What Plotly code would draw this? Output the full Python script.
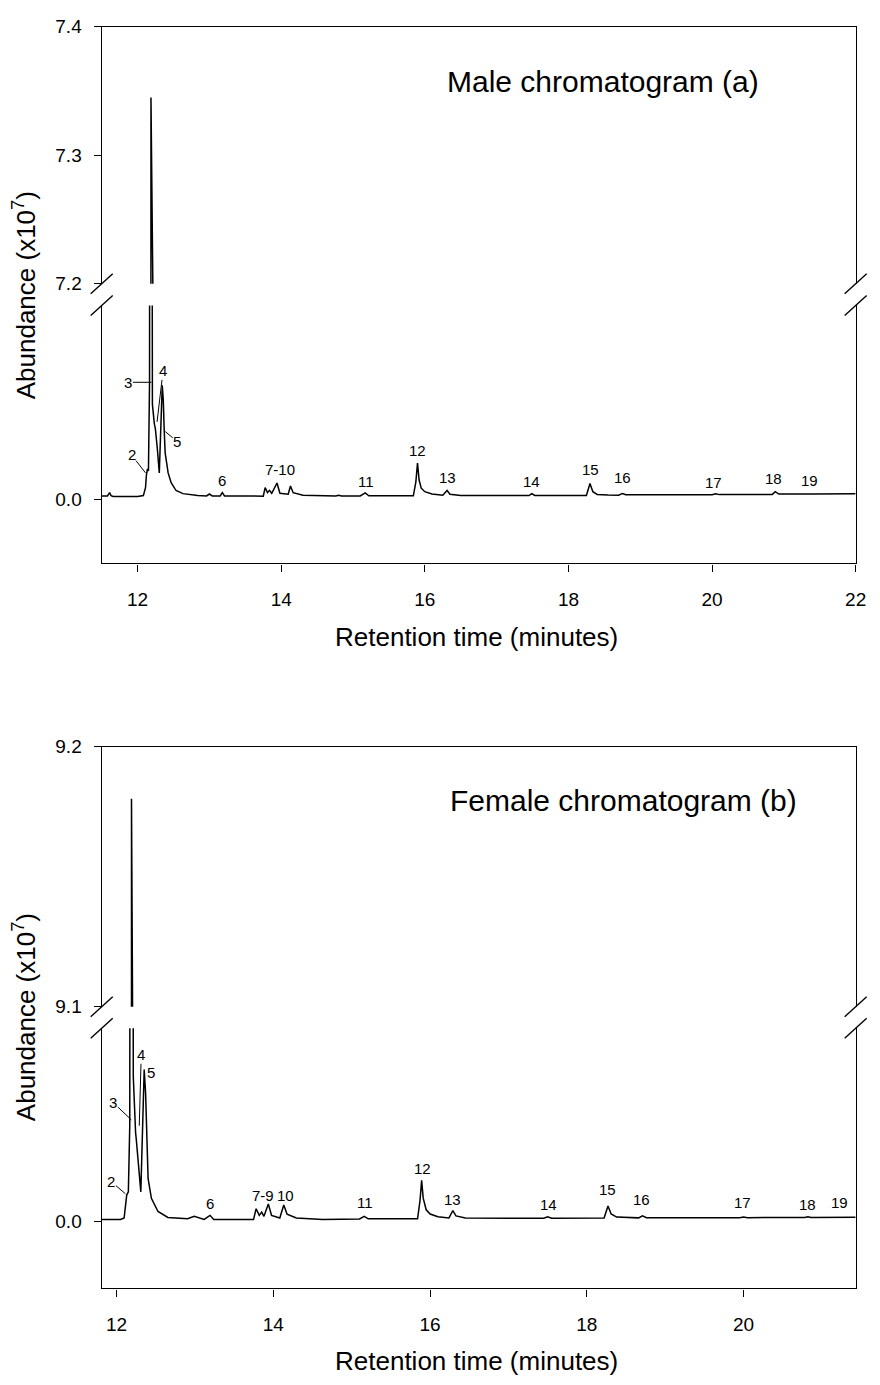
import plotly.graph_objects as go

W, H = 880, 1385

# ---------------- data ----------------
# abundance in units of x10^7 ; lower segment of each panel is a zoomed scale
male_time = [11.50, 11.58, 11.61, 11.63, 11.66, 11.80, 12.00, 12.08, 12.11, 12.123, 12.137,
             12.151, 12.166, 12.181, 12.186, 12.206, 12.233, 12.247, 12.274, 12.302, 12.343,
             12.357, 12.37, 12.384, 12.425, 12.467, 12.535, 12.631, 12.837, 12.96, 13.00,
             13.04, 13.15, 13.18, 13.21, 13.50, 13.75, 13.776, 13.809, 13.836, 13.868, 13.941,
             13.982, 14.097, 14.129, 14.166, 14.303, 14.76, 14.80, 14.84, 15.10, 15.17, 15.22,
             15.84, 15.875, 15.898, 15.92, 15.95, 16.00, 16.10, 16.25, 16.31, 16.35, 16.50,
             17.45, 17.49, 17.53, 18.25, 18.30, 18.34, 18.40, 18.55, 18.70, 18.75, 18.80,
             20.00, 20.05, 20.10, 20.84, 20.88, 20.93, 21.40, 22.00]
male_abund = [0.018, 0.018, 0.035, 0.020, 0.015, 0.015, 0.015, 0.020, 0.061, 0.127, 0.157,
              0.147, 0.600, 7.345, 7.345, 0.490, 0.390, 0.365, 0.264, 0.137, 0.589,
              0.518, 0.360, 0.239, 0.137, 0.086, 0.046, 0.030, 0.020, 0.018, 0.028,
              0.018, 0.018, 0.035, 0.018, 0.016, 0.017, 0.061, 0.035, 0.047, 0.032, 0.085,
              0.032, 0.027, 0.069, 0.035, 0.022, 0.018, 0.022, 0.018, 0.018, 0.034, 0.019,
              0.019, 0.090, 0.188, 0.100, 0.058, 0.040, 0.028, 0.022, 0.046, 0.027, 0.021,
              0.020, 0.030, 0.021, 0.021, 0.082, 0.040, 0.026, 0.023, 0.022, 0.031, 0.024,
              0.024, 0.029, 0.025, 0.026, 0.040, 0.028, 0.028, 0.030]

female_time = [11.81, 12.05, 12.096, 12.129, 12.15, 12.168, 12.186, 12.19, 12.213, 12.242,
               12.25, 12.309, 12.352, 12.37, 12.402, 12.444, 12.528, 12.654, 12.906, 12.99,
               13.117, 13.192, 13.24, 13.747, 13.78, 13.82, 13.851, 13.88, 13.936, 13.977,
               14.082, 14.133, 14.175, 14.293, 14.63, 15.10, 15.16, 15.21, 15.84, 15.872,
               15.892, 15.912, 15.95, 16.00, 16.10, 16.24, 16.29, 16.33, 16.45, 17.45, 17.50,
               17.55, 18.22, 18.27, 18.31, 18.38, 18.55, 18.66, 18.71, 18.76, 19.95, 20.00,
               20.05, 20.78, 20.82, 20.86, 21.43]
female_abund = [0.010, 0.010, 0.017, 0.136, 0.153, 0.500, 9.180, 9.180, 0.750, 0.460,
                0.430, 0.153, 0.786, 0.663, 0.221, 0.119, 0.051, 0.020, 0.014, 0.026,
                0.010, 0.031, 0.010, 0.009, 0.065, 0.031, 0.048, 0.026, 0.090, 0.031,
                0.017, 0.085, 0.037, 0.017, 0.010, 0.012, 0.026, 0.013, 0.013, 0.110,
                0.213, 0.120, 0.060, 0.038, 0.024, 0.017, 0.055, 0.028, 0.017, 0.016, 0.024,
                0.016, 0.017, 0.080, 0.038, 0.022, 0.018, 0.018, 0.028, 0.019, 0.019, 0.023,
                0.019, 0.020, 0.024, 0.020, 0.021]

# peak labels (text placed just above the peaks)
male_labels = ["6", "7-10", "11", "12", "13", "14", "15", "16", "17", "18", "19"]
male_label_time = [13.18, 13.98, 15.175, 15.90, 16.316, 17.484, 18.309, 18.749, 20.014, 20.852, 21.36]
male_label_abund = [0.096, 0.152, 0.091, 0.254, 0.112, 0.091, 0.152, 0.112, 0.086, 0.107, 0.096]
male_lead_labels = ["2", "3", "4", "5"]
male_lead_time = [12.11, 12.192, 12.271, 12.385]
male_lead_abund = [0.137, 0.604, 0.40, 0.35]
male_lead_dx = [-14, -23, 6, 12]
male_lead_dy = [-18, 0, -51, 10]

female_labels = ["5", "6", "7-9", "10", "11", "12", "13", "14", "15", "16", "17", "18", "19"]
female_label_time = [12.44, 13.196, 13.864, 14.154, 15.175, 15.906, 16.284, 17.506, 18.262,
                     18.703, 19.989, 20.821, 21.224]
female_label_abund = [0.77, 0.092, 0.133, 0.133, 0.097, 0.276, 0.112, 0.087, 0.163, 0.112,
                      0.097, 0.087, 0.097]
female_lead_labels = ["2", "3", "4"]
female_lead_time = [12.112, 12.188, 12.289]
female_lead_abund = [0.143, 0.526, 0.495]
female_lead_dx = [-14, -18, 2]
female_lead_dy = [-12, -17, -71]

x_ticks_top = [12, 14, 16, 18, 20, 22]
x_ticks_bot = [12, 14, 16, 18, 20]

# ---------------- layout geometry ----------------
FONT = "Liberation Sans, Arial, Helvetica, sans-serif"
XL, XR = 103 / W, 866.5 / W


def dom(top_px, bot_px):
    return [1 - bot_px / H, 1 - top_px / H]


LW = 1.4
fig = go.Figure()
line = dict(color="black", width=1.5)
for xa, ya in (("x", "y"), ("x3", "y3")):
    fig.add_trace(go.Scatter(x=male_time, y=male_abund, mode="lines", line=line,
                             xaxis=xa, yaxis=ya, showlegend=False, hoverinfo="skip"))
for xa, ya in (("x2", "y2"), ("x4", "y4")):
    fig.add_trace(go.Scatter(x=female_time, y=female_abund, mode="lines", line=line,
                             xaxis=xa, yaxis=ya, showlegend=False, hoverinfo="skip"))

tickfont = dict(family=FONT, size=19, color="black")
common = dict(showgrid=False, zeroline=False, showline=True, linecolor="black", linewidth=LW)

fig.update_layout(
    width=W, height=H, autosize=False,
    margin=dict(l=0, r=0, t=0, b=0),
    paper_bgcolor="white", plot_bgcolor="white",
    font=dict(family=FONT, color="black"),
    # top panel
    xaxis=dict(domain=[XL, XR], anchor="y", range=[11.5, 22.0001], tickvals=x_ticks_top,
               ticks="outside", ticklen=7, tickwidth=LW, tickcolor="black", tickfont=tickfont,
               ticklabelstandoff=12, **common),
    yaxis=dict(domain=dom(300, 562), anchor="x", range=[-0.33, 1.0], tickvals=[0],
               ticktext=["0.0"], ticks="outside", ticklen=7, tickwidth=LW, tickcolor="black",
               tickfont=tickfont, mirror=True, ticklabelstandoff=8, **common),
    xaxis3=dict(domain=[XL, XR], anchor="y3", range=[11.5, 22.0001], side="top",
                showticklabels=False, ticks="", **common),
    yaxis3=dict(domain=dom(17, 278), anchor="x3", range=[7.19999, 7.40001],
                tickvals=[7.2, 7.3, 7.4], ticktext=["7.2", "7.3", "7.4"], ticks="outside",
                ticklen=7, tickwidth=LW, tickcolor="black", tickfont=tickfont, mirror=True,
                ticklabelstandoff=8, **common),
    # bottom panel
    xaxis2=dict(domain=[XL, XR], anchor="y2", range=[11.81, 21.43], tickvals=x_ticks_bot,
                ticks="outside", ticklen=7, tickwidth=LW, tickcolor="black", tickfont=tickfont,
                ticklabelstandoff=12, **common),
    yaxis2=dict(domain=dom(1034, 1298), anchor="x2", range=[-0.347, 1.0], tickvals=[0],
                ticktext=["0.0"], ticks="outside", ticklen=7, tickwidth=LW, tickcolor="black",
                tickfont=tickfont, mirror=True, ticklabelstandoff=8, **common),
    xaxis4=dict(domain=[XL, XR], anchor="y4", range=[11.81, 21.43], side="top",
                showticklabels=False, ticks="", **common),
    yaxis4=dict(domain=dom(748, 1012), anchor="x4", range=[9.09999, 9.20001],
                tickvals=[9.1, 9.2], ticktext=["9.1", "9.2"], ticks="outside",
                ticklen=7, tickwidth=LW, tickcolor="black", tickfont=tickfont, mirror=True,
                ticklabelstandoff=8, **common),
)

ann = []
lblfont = dict(family=FONT, size=15, color="black")
for txt, t, v in zip(male_labels, male_label_time, male_label_abund):
    ann.append(dict(x=t, y=v, xref="x", yref="y", text=txt, showarrow=False,
                    xanchor="center", yanchor="middle", font=lblfont))
for txt, t, v, dx, dy in zip(male_lead_labels, male_lead_time, male_lead_abund, male_lead_dx, male_lead_dy):
    ann.append(dict(x=t, y=v, xref="x", yref="y", text=txt, showarrow=True, arrowhead=0,
                    arrowwidth=1, arrowcolor="black", ax=dx, ay=dy, standoff=0,
                    font=lblfont, borderpad=0))
for txt, t, v in zip(female_labels, female_label_time, female_label_abund):
    ann.append(dict(x=t, y=v, xref="x2", yref="y2", text=txt, showarrow=False,
                    xanchor="center", yanchor="middle", font=lblfont))
for txt, t, v, dx, dy in zip(female_lead_labels, female_lead_time, female_lead_abund, female_lead_dx, female_lead_dy):
    ann.append(dict(x=t, y=v, xref="x2", yref="y2", text=txt, showarrow=True, arrowhead=0,
                    arrowwidth=1, arrowcolor="black", ax=dx, ay=dy, standoff=0,
                    font=lblfont, borderpad=0))

titlefont = dict(family=FONT, size=30, color="black")
axtitlefont = dict(family=FONT, size=26, color="black")
ann += [
    dict(x=611 / W, y=1 - 73 / H, xref="paper", yref="paper", text="Male chromatogram (a)",
         showarrow=False, xanchor="center", yanchor="middle", font=titlefont),
    dict(x=631 / W, y=1 - 803 / H, xref="paper", yref="paper", text="Female chromatogram (b)",
         showarrow=False, xanchor="center", yanchor="middle", font=titlefont),
    dict(x=483 / W, y=1 - 637 / H, xref="paper", yref="paper", text="Retention time (minutes)",
         showarrow=False, xanchor="center", yanchor="middle", font=axtitlefont),
    dict(x=483 / W, y=1 - 1372 / H, xref="paper", yref="paper", text="Retention time (minutes)",
         showarrow=False, xanchor="center", yanchor="middle", font=axtitlefont),
    dict(x=25 / W, y=1 - 290 / H, xref="paper", yref="paper", text="Abundance (x10<sup>7</sup>)",
         showarrow=False, xanchor="center", yanchor="middle", textangle=-90, font=axtitlefont),
    dict(x=25 / W, y=1 - 1023 / H, xref="paper", yref="paper", text="Abundance (x10<sup>7</sup>)",
         showarrow=False, xanchor="center", yanchor="middle", textangle=-90, font=axtitlefont),
]
fig.update_layout(annotations=ann)


def brk(xpx, ypx):
    return dict(type="line", xref="paper", yref="paper", xsizemode="pixel", ysizemode="pixel",
                xanchor=xpx / W, yanchor=1 - ypx / H, x0=-11, x1=11, y0=-10, y1=10,
                line=dict(color="black", width=LW))


shapes = []
for ypx in (278, 300, 1012, 1034):
    shapes.append(brk(103, ypx))
    shapes.append(brk(866.5, ypx))
fig.update_layout(shapes=shapes)

fig.write_html("out.html")
